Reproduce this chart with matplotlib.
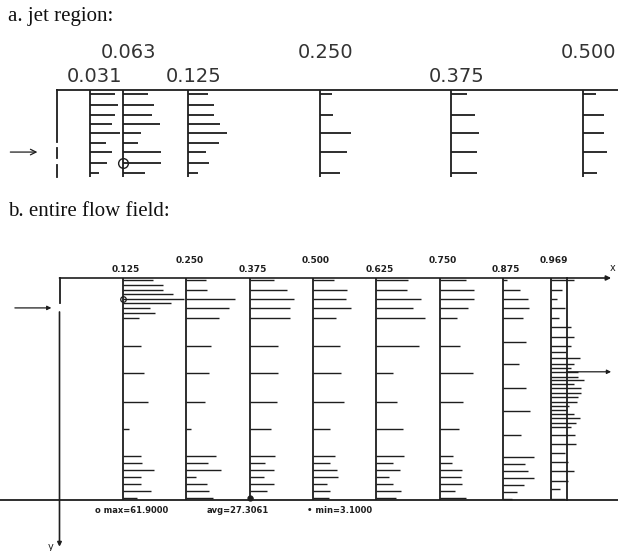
import matplotlib
matplotlib.use('Agg')
import matplotlib.pyplot as plt

# --- profile rows, y measured down from the top wall ---
Y_JET = [0.004, 0.014, 0.024, 0.032, 0.041, 0.050, 0.059, 0.069, 0.079]
Y_MID = [0.134, 0.187, 0.245, 0.298]
Y_BOT = [0.351, 0.365, 0.379, 0.393, 0.406, 0.420, 0.434]

# fine columns only shown in the jet close-up
U_031 = [42, 47, 42, 36, 50, 26, 37, 29, 16]
U_063 = [41, 50, 46, 60, 29, 24, 61, 61.9, 36]

# main columns: jet rows (all for 0.125, every second otherwise), mid rows, bottom rows
U_125 = [31, 41, 41, 51, 61.9, 49, 28, 33, 16, 18, 22, 26, 6, 19, 20, 32, 19, 19, 29, 14]
U_250 = [20, 21, 50, 44, 33, 25, 23, 19, 5, 30, 22, 35, 10, 21, 23, 27]
U_375 = [25, 38, 45, 41, 41, 29, 29, 28, 22, 26, 16, 25, 15, 25, 18, 3.1]
U_500 = [21, 35, 34, 39, 23, 28, 29, 32, 17, 22, 17, 24, 25, 14, 17, 16]
U_625 = [32, 31, 46, 37, 50, 44, 17, 21, 27, 28, 17, 24, 13, 17, 25, 20]
U_750 = [27, 35, 35, 29, 18, 21, 34, 24, 20, 14, 13, 23, 22, 23, 16, 27]

# columns near the outlet have their own rows
Y_875 = [0.004, 0.024, 0.041, 0.059, 0.079, 0.126, 0.170, 0.217, 0.262, 0.310,
         0.353, 0.367, 0.381, 0.394, 0.408, 0.422, 0.436]
U_875 = [3.5, 17, 25, 26, 20, 23, 16, 23, 27, 18, 32, 22, 25, 31, 21, 14, 9]

Y_969 = [0.004, 0.024, 0.041, 0.059, 0.079, 0.097, 0.116, 0.134, 0.146, 0.158,
         0.170, 0.178, 0.185, 0.195, 0.201, 0.209, 0.217, 0.227, 0.235, 0.245,
         0.252, 0.260, 0.268, 0.276, 0.286, 0.294, 0.310, 0.327, 0.345, 0.363,
         0.381, 0.400, 0.416, 0.436]
U_969 = [24, 11, 6, 14, 8, 21, 24, 21, 16, 30, 24, 21, 28, 28, 34, 24, 31, 31,
         28, 27, 19, 17, 24, 30, 26, 21, 25, 26, 15, 18, 24, 18, 9, 15]

A_X = [0.031, 0.063, 0.125, 0.250, 0.375, 0.500]
B_X = [0.125, 0.250, 0.375, 0.500, 0.625, 0.750, 0.875, 0.969]
AVG_U = 27.3061

# --- geometry ---
H = 0.4375          # channel depth
INLET_Y = 0.059
OUTLET_Y = 0.185
SCALE_A = 0.614 / 1052   # velocity -> length, close-up
SCALE_B = 0.98 / 507     # velocity -> length, whole field
INK = '#1e1e1e'

FIG_W, FIG_H = 618, 551
fig = plt.figure(figsize=(FIG_W / 100, FIG_H / 100), dpi=100)


def make_axes(top, bottom, x0, y0, k):
    ax = fig.add_axes([0, 1 - bottom / FIG_H, 1, (bottom - top) / FIG_H])
    ax.set_xlim(-x0 / k, (FIG_W - x0) / k)
    ax.set_ylim((bottom - y0) / k, (top - y0) / k)
    ax.axis('off')
    return ax


def draw_profile(ax, x, ys, us, scale, y_end, lw):
    ax.vlines(x, 0, y_end, color=INK, lw=1.3)
    ax.hlines(ys, x, [x + u * scale for u in us], color=INK, lw=lw)


fine_rows = Y_JET + Y_MID + Y_BOT
coarse_rows = Y_JET[::2] + Y_MID + Y_BOT

# ---------------- a. jet region ----------------
ax = make_axes(25, 190, 57, 90, 1052)
a_bottom = 0.083
ax.plot([0, ax.get_xlim()[1]], [0, 0], color=INK, lw=1.3)
for seg in [(0, 0.049), (0.055, 0.065), (0.071, a_bottom)]:
    ax.plot([0, 0], seg, color=INK, lw=1.3)
ax.annotate('', xy=(-0.016, INLET_Y), xytext=(-0.047, INLET_Y),
            arrowprops=dict(arrowstyle='->', color=INK, lw=0.9))

a_profiles = [(U_031, Y_JET), (U_063, Y_JET), (U_125[:9], Y_JET),
              (U_250[:5], Y_JET[::2]), (U_375[:5], Y_JET[::2]), (U_500[:5], Y_JET[::2])]
for i, (x, (us, ys)) in enumerate(zip(A_X, a_profiles)):
    draw_profile(ax, x, ys, us, SCALE_A, a_bottom, 1.3)
    ly = -0.036 if i % 2 else -0.0124
    ax.text(x + 0.005, ly, f'{x:.3f}', ha='center', va='center',
            fontsize=14, color='#333333')
# location of the maximum
i_max = U_063.index(max(U_063))
ax.plot(A_X[1], Y_JET[i_max], 'o', ms=7, mfc='none', mec=INK, mew=1.0)

fig.text(8 / FIG_W, 1 - 16 / FIG_H, 'a. jet region:', family='Liberation Serif',
         fontsize=15, va='center', color='#111111')

# ---------------- b. entire flow field ----------------
ax = make_axes(240, 551, 59.5, 278, 507)
x_right = ax.get_xlim()[1]
ax.annotate('', xy=(1.088, 0), xytext=(0, 0),
            arrowprops=dict(arrowstyle='-|>', color=INK, lw=1.2,
                            mutation_scale=7, shrinkA=0, shrinkB=0))
ax.text(1.091, -0.02, 'x', fontsize=7, color=INK, ha='center', va='center')
ax.plot([0, 0], [0, 0.049], color=INK, lw=1.3)
ax.annotate('', xy=(0, 0.530), xytext=(0, 0.067),
            arrowprops=dict(arrowstyle='-|>', color=INK, lw=1.2,
                            mutation_scale=6, shrinkA=0, shrinkB=0))
ax.text(-0.012, 0.530, 'y', fontsize=7, color=INK, ha='right', va='center')
ax.plot([ax.get_xlim()[0], x_right], [H, H], color=INK, lw=1.3)
ax.plot([1, 1], [0, H], color=INK, lw=1.3)
ax.annotate('', xy=(-0.016, INLET_Y), xytext=(-0.088, INLET_Y),
            arrowprops=dict(arrowstyle='-|>', color=INK, lw=0.9,
                            mutation_scale=6, shrinkA=0, shrinkB=0))
ax.annotate('', xy=(1.088, OUTLET_Y), xytext=(1.0, OUTLET_Y),
            arrowprops=dict(arrowstyle='-|>', color=INK, lw=0.9,
                            mutation_scale=6, shrinkA=0, shrinkB=0))

b_profiles = [(U_125, fine_rows), (U_250, coarse_rows), (U_375, coarse_rows),
              (U_500, coarse_rows), (U_625, coarse_rows), (U_750, coarse_rows),
              (U_875, Y_875), (U_969, Y_969)]
for i, (x, (us, ys)) in enumerate(zip(B_X, b_profiles)):
    draw_profile(ax, x, ys, us, SCALE_B, H, 1.0)
    ly = -0.0355 if i % 2 else -0.0158
    ax.text(x + 0.006, ly, f'{x:.3f}', ha='center', va='center',
            fontsize=6.5, fontweight='bold', color=INK)

all_u = U_125 + U_250 + U_375 + U_500 + U_625 + U_750 + U_875 + U_969
u_max, u_min = max(all_u), min(all_u)
ax.plot(B_X[0], fine_rows[U_125.index(u_max)], 'o', ms=4, mfc='none', mec=INK, mew=0.9)
ax.plot(B_X[2], coarse_rows[U_375.index(u_min)], 'o', ms=3.5, color=INK)

ty = 0.458
ax.text(0.070, ty, f'o max={u_max:.4f}', fontsize=6, fontweight='bold', color=INK, va='center')
ax.text(0.291, ty, f'avg={AVG_U:.4f}', fontsize=6, fontweight='bold', color=INK, va='center')
ax.text(0.488, ty, f'\u2022 min={u_min:.4f}', fontsize=6, fontweight='bold', color=INK, va='center')

fig.text(8 / FIG_W, 1 - 212 / FIG_H, 'b. entire flow field:', family='Liberation Serif',
         fontsize=15, va='center', color='#111111')

fig.savefig('out.png', dpi=100, facecolor='white')
